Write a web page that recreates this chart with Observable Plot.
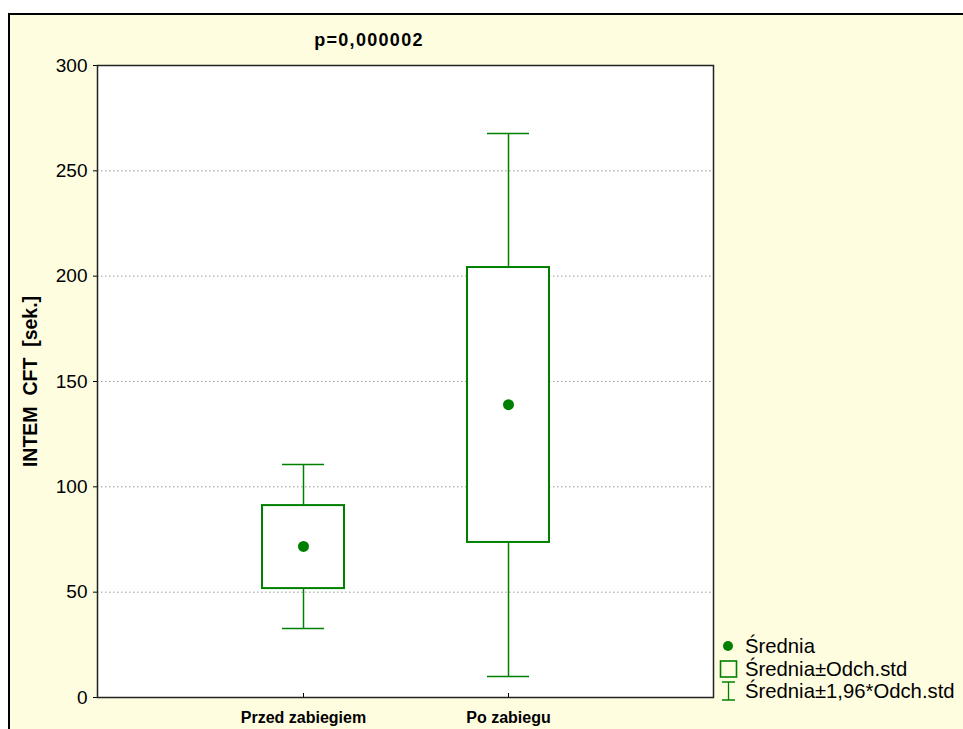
<!DOCTYPE html>
<html><head><meta charset="utf-8">
<script src="https://cdn.jsdelivr.net/npm/d3@7"></script>
<script src="https://cdn.jsdelivr.net/npm/@observablehq/plot@0.6"></script>
<style>
body{margin:0;background:#fff;width:963px;height:729px;overflow:hidden;position:relative;font-family:Arial,"Liberation Sans",sans-serif;}
#bg{position:absolute;left:8px;top:13px;width:980px;height:740px;border-left:2px solid #000;border-top:2px solid #000;background:#FFFDE0;}
#chart{position:absolute;left:0;top:0;}
#title{position:absolute;left:269px;width:200px;top:30px;text-align:center;font-weight:bold;font-size:18px;letter-spacing:1.3px;color:#000;}
#legend{position:absolute;left:719px;top:635px;font-size:20.3px;color:#000;}
#legend .row{height:22.5px;line-height:22.5px;display:flex;align-items:center;white-space:nowrap;}
#legend svg{width:20px;height:22px;margin-right:6px;}
svg text{white-space:pre}
</style>
</head><body>
<div id="bg"></div>
<div id="chart"></div>
<div id="title"></div>
<div id="legend"></div>
<script>
const titleText = "p=0,000002";
const yLabel = "INTEM  CFT  [sek.]";
const categories = ["Przed zabiegiem", "Po zabiegu"];
const means  = [71.7, 139.0];
const sdLow  = [51.7, 73.6];
const sdHigh = [91.1, 204.1];
const ciLow  = [32.8, 10.0];
const ciHigh = [110.6, 267.7];
const yTicks = [0, 50, 100, 150, 200, 250, 300];
const gridTicks = [50, 100, 150, 200, 250];
const legendLabels = ["Średnia", "Średnia±Odch.std", "Średnia±1,96*Odch.std"];
const green = "#008000";

const rows = categories.map((c, i) => ({
  cat: c, mean: means[i], lo: sdLow[i], hi: sdHigh[i], cilo: ciLow[i], cihi: ciHigh[i]
}));

document.getElementById("title").textContent = titleText;

const chart = Plot.plot({
  width: 963,
  height: 729,
  marginLeft: 97,
  marginRight: 250,
  marginTop: 65,
  marginBottom: 32,
  style: {background: "transparent", fontFamily: "Arial, 'Liberation Sans', sans-serif", color: "#000"},
  x: {type: "band", domain: categories, paddingInner: 0.6, paddingOuter: 0.8, axis: null},
  y: {domain: [0, 300], axis: null},
  marks: [
    Plot.frame({fill: "white", stroke: "none"}),
    Plot.gridY(gridTicks, {stroke: "#999", strokeOpacity: 1, strokeDasharray: "1.5,2.5"}),
    Plot.ruleX(rows, {x: "cat", y1: "cilo", y2: "cihi", stroke: green, strokeWidth: 1.5}),
    Plot.tickY(rows, {x: "cat", y: "cilo", stroke: green, strokeWidth: 1.5, insetLeft: 20, insetRight: 20}),
    Plot.tickY(rows, {x: "cat", y: "cihi", stroke: green, strokeWidth: 1.5, insetLeft: 20, insetRight: 20}),
    Plot.barY(rows, {x: "cat", y1: "lo", y2: "hi", fill: "white", stroke: green, strokeWidth: 2}),
    Plot.dot(rows, {x: "cat", y: "mean", r: 5.5, fill: green, stroke: "none"}),
    Plot.axisY({ticks: yTicks, tickSize: 4, tickPadding: 6, fontSize: 19, label: null, stroke: "#000"}),
    Plot.axisX({tickSize: 0, tickPadding: 14, fontSize: 16, fontWeight: "bold", label: null}),
    Plot.axisX({tickSize: 4, dy: -4, tickFormat: () => "", label: null, stroke: "#000"}),
    Plot.text([yLabel], {frameAnchor: "left", textAnchor: "middle", rotate: -90, dx: -67, fontWeight: "bold", fontSize: 19.5, fill: "#000"}),
    Plot.frame({stroke: "#222", strokeWidth: 1.5})
  ]
});
document.getElementById("chart").appendChild(chart);

const legend = document.getElementById("legend");
const symbols = [
  `<svg viewBox="0 0 20 22"><circle cx="9" cy="11" r="5" fill="${green}"/></svg>`,
  `<svg viewBox="0 0 20 22"><rect x="1.5" y="3" width="16" height="16" fill="none" stroke="${green}" stroke-width="1.6"/></svg>`,
  `<svg viewBox="0 0 20 22"><path d="M3 2H16M9.5 2V20M3 20H16" fill="none" stroke="${green}" stroke-width="1.3"/></svg>`
];
legendLabels.forEach((l, i) => {
  const row = document.createElement("div");
  row.className = "row";
  row.innerHTML = symbols[i];
  const span = document.createElement("span");
  span.textContent = l;
  row.appendChild(span);
  legend.appendChild(row);
});
</script>
</body></html>
